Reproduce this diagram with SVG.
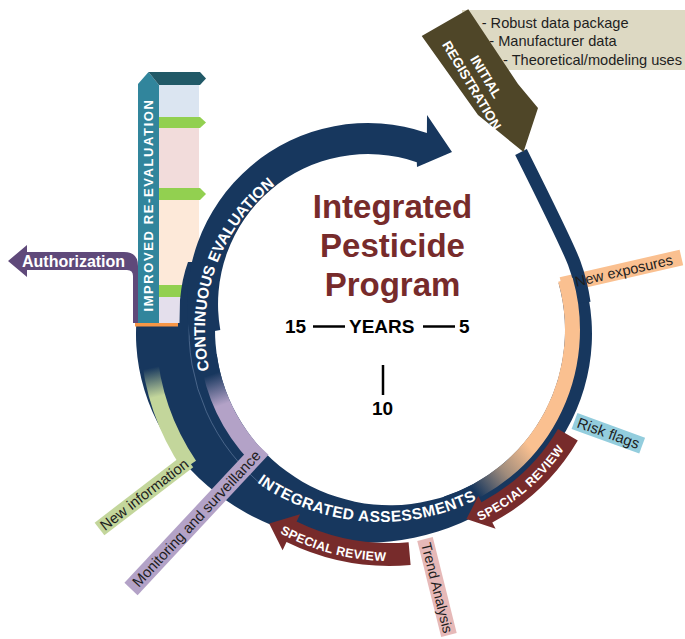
<svg xmlns="http://www.w3.org/2000/svg" width="685" height="639" viewBox="0 0 685 639">
<defs>
<style>
.wt{fill:#fff;font-family:"Liberation Sans",Arial,Helvetica,sans-serif;font-weight:bold}
.lt{fill:#1e1e1e;font-family:"Liberation Sans",Arial,Helvetica,sans-serif}
.nv{fill:#17375e}
.bk{fill:#000;font-family:"Liberation Sans",Arial,Helvetica,sans-serif;font-weight:bold}
.ttl{fill:#772b2b;font-family:"Liberation Sans",Arial,Helvetica,sans-serif;font-weight:bold;font-size:33px}
.red{fill:#772b2b}
.grn{fill:#92d050}
.ln{stroke:#000;stroke-width:2.5;fill:none}
</style>
<linearGradient id="gPeach" gradientUnits="userSpaceOnUse" x1="531" y1="448" x2="476" y2="493">
<stop offset="0" stop-color="#fac090"/><stop offset="0.5" stop-color="#a08c7c"/><stop offset="1" stop-color="#17375e"/>
</linearGradient>
<linearGradient id="gPurple" gradientUnits="userSpaceOnUse" x1="222" y1="405" x2="211.5" y2="374.5">
<stop offset="0" stop-color="#b3a2c7"/><stop offset="1" stop-color="#17375e"/>
</linearGradient>
<linearGradient id="gGreen" gradientUnits="userSpaceOnUse" x1="157.4" y1="396.7" x2="151" y2="367.9">
<stop offset="0" stop-color="#c3d69b"/><stop offset="1" stop-color="#17375e"/>
</linearGradient>
<path id="pCE" d="M211.3,377.9 A185,185 0 0 1 297.5,169.8"/>
<path id="pIA" d="M251.6,478.7 A215,215 0 0 0 481.9,496.8"/>
<path id="pSR1" d="M475.8,522.8 A211,211 0 0 0 576.3,429.1"/>
<path id="pSR2" d="M274.5,530 A231,231 0 0 0 414.1,559.7"/>
</defs>

<rect width="685" height="639" fill="#fff"/>

<!-- labels behind ring -->
<g id="label-new-exposures" transform="translate(561.5,285) rotate(-12.9)">
<rect x="0" y="-8" width="123" height="16" fill="#fac090"/>
</g>
<g id="label-risk-flags" transform="translate(574.5,421) rotate(20)">
<rect x="0" y="-8.5" width="72" height="17" fill="#93cddd"/>
<text class="lt" x="3.5" y="5" font-size="15">Risk flags</text>
</g>
<g id="label-trend" transform="translate(425,539) rotate(76)">
<rect x="0" y="-8" width="99" height="16" fill="#e6b9b8"/>
<text class="lt" x="4" y="5" font-size="14.2">Trend Analysis</text>
</g>

<!-- improved re-evaluation panel -->
<g id="panel">
<polygon points="138,323 138,84 148.5,72 159,85 159,323" fill="#31859c"/>
<polygon points="148.5,72 200,72 206,78.5 200,85 159,85" fill="#215967"/>
<rect x="159" y="85" width="40" height="32" fill="#dbe5f1"/>
<polygon class="grn" points="159,117 200,117 206,122.5 200,128 159,128"/>
<rect x="159" y="128" width="40" height="60" fill="#f2dcdb"/>
<polygon class="grn" points="159,188 200,188 206,194 200,200 159,200"/>
<rect x="159" y="200" width="40" height="85" fill="#fde9d9"/>
<polygon class="grn" points="159,285 200,285 206,291 200,297 159,297"/>
<rect x="159" y="297" width="40" height="26" fill="#e4dfec"/>
<text class="wt" font-size="13" letter-spacing="1.6" text-anchor="middle" transform="translate(148.5,205) rotate(-90)" y="4.7">IMPROVED RE-EVALUATION</text>
</g>

<g id="authorization">
<path d="M8,261 L27,245 L27,252 L124,252 Q138,252 138,266 L138,323 L133,323 L133,276 Q133,270 127,270 L27,270 L27,277 Z" fill="#5f497a"/>
<text class="wt" x="22" y="266.5" font-size="16">Authorization</text>
</g>

<!-- cycle ring (connectors) -->
<g id="connectors">
<path class="nv" d="M583.2,276.4 A228,209 0 1 1 136.3,323 L179.5,323 L180,300 Q182,278 188,262 L205,262 L215.1,325 A175,175 0 1 0 558.6,283.2 Z"/>
<path d="M521,152 C535,180 567,244 574.2,263 A196,196 0 0 1 584.1,302.7" fill="none" stroke="#17375e" stroke-width="13"/>
<path d="M565.4,279.7 A182.5,182.5 0 0 1 446.4,503.6" fill="none" stroke="url(#gPeach)" stroke-width="15"/>
<path d="M255.8,455.1 A183.5,183.5 0 0 1 208.3,355.5" fill="none" stroke="url(#gPurple)" stroke-width="17"/>
<path d="M189.4,465.3 A242,242 0 0 1 148.6,346.9" fill="none" stroke="url(#gGreen)" stroke-width="16"/>
<path d="M189.5,316 A201,201 0 0 0 266.3,488.4" fill="none" stroke="#6a84a6" stroke-width="1" opacity="0.6"/>
<path class="nv" d="M189.75,335.4 A181,181 0 0 1 426.9,132.9 L427,115 L452,152 L417,167 L416.8,162.2 A150,150 0 0 0 220.3,330 Z"/>
<path class="red" d="M577.8,440.6 A218,218 0 0 1 492.3,522.5 L495.6,528.7 L466.4,519.1 L478.3,496 L481.5,502.2 A195,195 0 0 0 558,429 Z"/>
<path class="red" d="M408.6,542.2 A213,213 0 0 1 296.6,521.4 L300.1,514.3 L269.2,523.4 L282.6,550.2 L286.5,542.1 A236,236 0 0 0 410.6,565.1 Z"/>
<text class="wt" font-size="15.5"><textPath href="#pCE" startOffset="8">CONTINUOUS EVALUATION</textPath></text>
<text class="wt" font-size="15.5" letter-spacing="0.5"><textPath href="#pIA" startOffset="6.7">INTEGRATED ASSESSMENTS</textPath></text>
<text class="wt" font-size="12.5" letter-spacing="0.4"><textPath href="#pSR1" startOffset="4.4">SPECIAL REVIEW</textPath></text>
<text class="wt" font-size="12.5" letter-spacing="0.3"><textPath href="#pSR2" startOffset="6">SPECIAL REVIEW</textPath></text>
</g>

<rect x="135" y="323" width="43" height="3.5" fill="#f79646"/>

<g id="label-new-information" transform="translate(99.5,529) rotate(-37.5)">
<rect x="0" y="-8" width="112" height="16" fill="#c3d69b"/>
<text class="lt" x="3" y="5" font-size="14.8">New information</text>
</g>
<g id="label-monitoring" transform="translate(131,589) rotate(-47)">
<rect x="0" y="-9" width="192" height="18" fill="#b3a2c7"/>
<text class="lt" x="6" y="5" font-size="14.8">Monitoring and surveillance</text>
</g>
<g id="label-new-exposures-text" transform="translate(561.5,285) rotate(-12.9)">
<text class="lt" x="14" y="5" font-size="14.5">New exposures</text>
</g>

<!-- initial registration -->
<g id="registration-notes">
<rect x="462" y="10" width="223" height="60" fill="#ddd9c3"/>
<text class="lt" font-size="14.6" x="481.7" y="27.9">- Robust data package</text>
<text class="lt" font-size="14.6" x="489.3" y="46.2">- Manufacturer data</text>
<text class="lt" font-size="14.6" x="503" y="64.5">- Theoretical/modeling uses</text>
</g>
<g id="initial-registration">
<polygon points="421.7,36 468.3,9.3 518,84 538,108 523.5,152 478,115" fill="#4f4628"/>
<g transform="translate(479,81) rotate(59)">
<text class="wt" font-size="13.5" text-anchor="middle" x="0" y="-3.5">INITIAL</text>
<text class="wt" font-size="13.5" text-anchor="middle" x="0" y="13">REGISTRATION</text>
</g>
</g>

<!-- centre -->
<g id="title">
<text class="ttl" x="392.5" y="218" text-anchor="middle">Integrated</text>
<text class="ttl" x="392.5" y="257" text-anchor="middle">Pesticide</text>
<text class="ttl" x="392.5" y="296" text-anchor="middle">Program</text>
</g>
<g id="years">
<text class="bk" x="285" y="333" font-size="19">15</text>
<line class="ln" x1="313" y1="326.5" x2="345" y2="326.5"/>
<text class="bk" x="349" y="333" font-size="19">YEARS</text>
<line class="ln" x1="423" y1="326.5" x2="455" y2="326.5"/>
<text class="bk" x="459" y="333" font-size="19">5</text>
<line class="ln" x1="383" y1="365" x2="383" y2="395"/>
<text class="bk" x="382.5" y="415" font-size="19" text-anchor="middle">10</text>
</g>
</svg>
